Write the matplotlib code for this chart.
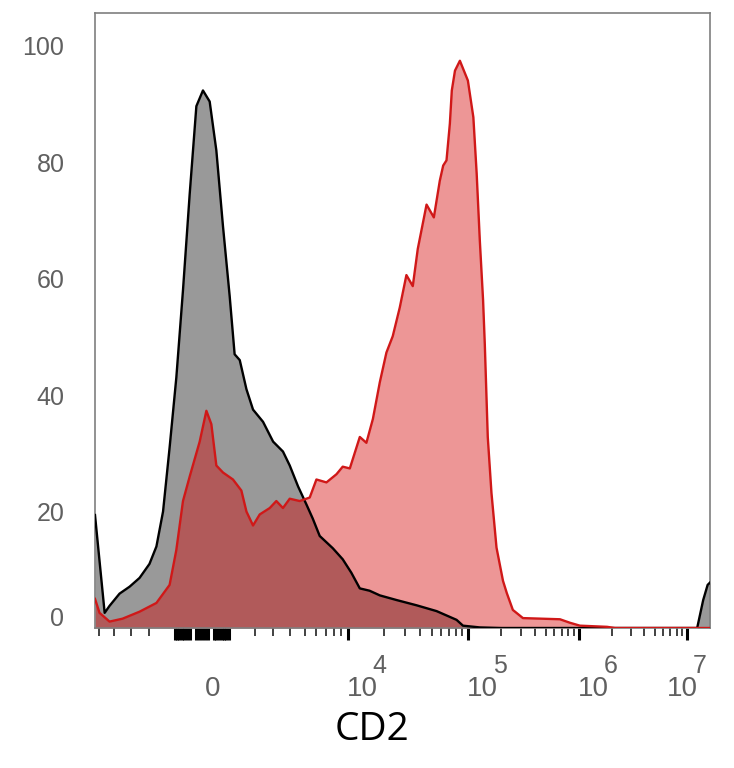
import numpy as np
import matplotlib
matplotlib.use('Agg')
import matplotlib.pyplot as plt
from matplotlib.transforms import ScaledTranslation

plt.rcParams['font.family'] = ['Liberation Sans', 'DejaVu Sans']

# CD2 intensity (biexponential axis) and % of max for the two histograms
gray_x = [-5300, -4570, -4250, -3620, -3050, -2460, -1960, -1650, -1390, -1160,
          -924, -648, -401, -174, 42, 264, 497, 752, 1030, 1190, 1370, 1630,
          1920, 2420, 3020, 3570, 4000, 4530, 5140, 5690, 6370, 7860, 9220,
          10700, 12600, 15200, 18500, 25500, 37400, 54900, 80500, 91000,
          128000, 200000, 12400000, 14100000, 15500000, 16300000]
gray_y = [19.4, 2.6, 3.8, 5.9, 7.1, 8.6, 11, 14, 20, 31, 43, 58, 74.5, 89.6,
          92.3, 90.4, 82, 69, 57, 47, 46, 41, 37.5, 35.4, 32, 30.3, 27.9, 24.3,
          21.2, 18.8, 15.8, 13.7, 11.8, 9.5, 6.8, 6.4, 5.6, 4.8, 3.9, 2.9, 1.4,
          0.4, 0.1, 0, 0, 4.8, 7.4, 7.8]

red_x = [-5300, -4930, -4250, -3440, -2460, -1650, -1160, -924, -648, -401,
         -65, 154, 321, 497, 752, 1135, 1430, 1630, 1920, 2245, 2810, 3190,
         3570, 4000, 4640, 5420, 6040, 7100, 8340, 9220, 10400, 12600, 14300,
         16200, 18500, 21000, 23700, 27100, 30800, 34800, 38300, 45300, 52100,
         58400, 62300, 66400, 70800, 73500, 78100, 85800, 100000, 112000,
         120000, 128000, 137000, 142000, 151000, 163000, 181000, 207000,
         224000, 254000, 313000, 674000, 829000, 1020000, 1820000, 2150000,
         16300000]
red_y = [5, 2.6, 1.1, 1.6, 2.8, 4.3, 7.4, 13.4, 21.8, 26, 32, 37.3, 35, 27.9,
         26.7, 25.5, 23.6, 20, 17.6, 19.5, 20.6, 21.8, 20.6, 22.2, 21.8, 22.4,
         25.5, 25, 26.4, 27.7, 27.4, 32.8, 31.8, 35.9, 42.2, 47.3, 50.1, 55,
         60.6, 58.7, 65.1, 72.7, 70.5, 76.8, 79.4, 80.3, 86.6, 92.3, 95.7,
         97.4, 94, 87.7, 78, 66.6, 56.3, 48.7, 32.8, 23.2, 13.8, 8.1, 6, 3.1,
         1.7, 1.5, 0.9, 0.4, 0.2, 0, 0]

decade_ticks = [0, 1e4, 1e5, 1e6, 1e7]
decade_labels = ['0', '10', '10', '10', '10']
decade_powers = ['', '4', '5', '6', '7']
y_ticks = [0, 20, 40, 60, 80, 100]

# biexponential-like display scale (FlowJo style)
ANCHOR_X = np.array([0, 1e3, 2e3, 3e3, 4e3, 5e3, 1e4, 1e5, 1e6, 1e7, 1e12])
ANCHOR_G = np.array([0, 27, 53, 71, 88, 103, 146, 266, 377, 485, 1025])
ANCHOR_U = np.arcsinh(ANCHOR_X / 1000.0)


def biex_fwd(x):
    x = np.asarray(x, dtype=float)
    u = np.arcsinh(np.abs(x) / 1000.0)
    return np.sign(x) * np.interp(u, ANCHOR_U, ANCHOR_G)


def biex_inv(g):
    g = np.asarray(g, dtype=float)
    u = np.interp(np.abs(g), ANCHOR_G, ANCHOR_U)
    return np.sign(g) * 1000.0 * np.sinh(u)


# dense ticks of the linear zone round zero, drawn like major ticks
zero_zone = [v for v in range(-1000, 1001, 100) if v not in (0, -300, 300)]
major_ticks = decade_ticks + zero_zone
major_labels = decade_labels + [''] * len(zero_zone)

minor_ticks = [-5000, -4000, -3000, -2000]
minor_ticks += [k * 1000 for k in range(2, 10)]
for e in (4, 5, 6):
    minor_ticks += [k * 10 ** e for k in range(2, 10)]

fig = plt.figure(figsize=(7.34, 7.68), dpi=100)
ax = fig.add_axes([95 / 734, 1 - 628 / 768, 615 / 734, 615 / 768])
ax.set_xscale('function', functions=(biex_fwd, biex_inv))

ax.fill_between(gray_x, gray_y, 0, color='#999999', lw=0, zorder=1)
ax.fill_between(red_x, red_y, 0, color=(213 / 255, 0, 0), alpha=0.41, lw=0, zorder=2)
ax.plot(gray_x, gray_y, color='black', lw=1.7, zorder=3)
ax.plot(red_x, red_y, color='#d01818', lw=1.7, zorder=4)

ax.set_xlim(-5300, 1.63e7)
ax.set_ylim(0, 105.6)

ax.set_xticks(major_ticks, major_labels)
ax.set_xticks(minor_ticks, minor=True)
ax.set_yticks(y_ticks, [str(v) for v in y_ticks])

ax.tick_params(axis='x', which='major', direction='out', length=8.6, width=2.2,
               color='black', pad=40, labelsize=20, labelcolor='#606060')
ax.tick_params(axis='x', which='minor', direction='out', length=6.0, width=1.3,
               color='#333333')
ax.tick_params(axis='y', length=0, pad=22, labelsize=18, labelcolor='#606060')

# label shifts in pixels, as FlowJo lays them out
shift = {'0': 3, '10': -1}
for tick in ax.xaxis.get_major_ticks():
    lbl = tick.label1
    lbl.set_ha('left')
    lbl.set_va('baseline')
    dx = -20 if tick.get_loc() == 1e7 else shift.get(lbl.get_text(), 0)
    lbl.set_transform(lbl.get_transform() + ScaledTranslation(dx / 100, 0, fig.dpi_scale_trans))

# superscript exponents of the decade labels
for loc, p in zip(decade_ticks, decade_powers):
    if not p:
        continue
    dx = 6 if loc == 1e7 else 25
    ax.text(loc, 0, p, fontsize=18, color='#606060', ha='left', va='top',
            transform=ax.get_xaxis_transform()
            + ScaledTranslation(dx / 100, -0.26, fig.dpi_scale_trans))

ylbl0 = ax.get_yticklabels()[0]
ylbl0.set_transform(ylbl0.get_transform() + ScaledTranslation(0, 0.12, fig.dpi_scale_trans))

for sp in ax.spines.values():
    sp.set_color('#7f7f7f')
    sp.set_linewidth(1.2)

fig.text(372 / 734, 1 - 730 / 768, 'CD2', ha='center', va='center',
         fontsize=28, family='Open Sans', color='black')

fig.savefig('out.png', dpi=100)
